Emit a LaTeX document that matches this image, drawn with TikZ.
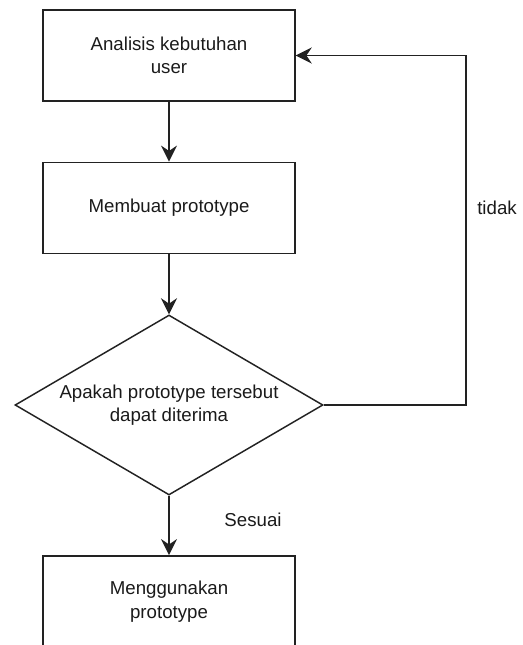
\documentclass[tikz,border=0pt]{standalone}
\usepackage{fontspec}
\setmainfont{Liberation Sans}
\usetikzlibrary{shapes.geometric,arrows.meta}
\definecolor{ln}{HTML}{222222}
\definecolor{tx}{HTML}{1A1A1A}
\tikzset{
  box/.style={draw=ln, line width=1.1pt, rectangle, minimum width=189pt, minimum height=68.5pt, inner sep=0pt, align=center, text=tx, font=\fontsize{14}{17.5}\selectfont},
  dec/.style={draw=ln, line width=1.1pt, diamond, minimum width=231pt, minimum height=135pt, inner sep=0pt},
  lbl/.style={text=tx, font=\fontsize{14}{17.5}\selectfont, align=center, inner sep=0pt},
  arr/.style={draw=ln, line width=1.1pt, -{Stealth[length=12pt, width=12pt, inset=4pt]}}
}
\begin{document}
\begin{tikzpicture}[x=0.75pt, y=-0.75pt]
\useasboundingbox (0,0) rectangle (522,645);
\clip (0,0) rectangle (522,645);
\node[box] (b1) at (169,55.5) {Analisis kebutuhan\\user};
\node[box] (b2) at (169,208) {Membuat prototype};
\node[dec] (d) at (169,405) {};
\node[lbl] (dt) at (169,405) {Apakah prototype tersebut\\dapat diterima};
\node[box] (b3) at (169,601.5) {Menggunakan\\prototype};
\coordinate (lp) at (466,55.5);
\draw[arr] (b1.south) -- (b2.north);
\draw[arr] (b2.south) -- (d.north);
\draw[arr] (d.east) -| (lp) -- (b1.east);
\draw[arr] (d.south) -- (b3.north);
\node[lbl] (tidak) at (497,208) {tidak};
\node[lbl] (sesuai) at (253,520) {Sesuai};
\end{tikzpicture}
\end{document}
